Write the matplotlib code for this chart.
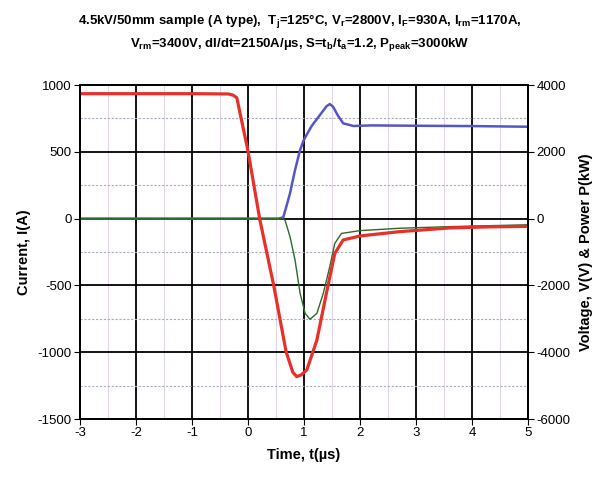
import matplotlib.pyplot as plt
import matplotlib.ticker as ticker

plt.rcParams['font.family'] = ['Liberation Sans Narrow', 'Liberation Sans', 'DejaVu Sans']
plt.rcParams['mathtext.default'] = 'regular'

# current I(A)
t_cur = [-3.0, -1.0, -0.35, -0.27, -0.2, 0.0, 0.21, 0.46, 0.68, 0.8, 0.87, 0.95, 1.05, 1.23, 1.4, 1.55, 1.7,
         2.0, 2.7, 3.6, 4.3, 5.0]
i_cur = [935, 935, 933, 925, 905, 506, -5, -502, -996, -1150, -1183, -1170, -1133, -909, -559, -260, -160,
         -130, -98, -70, -62, -58]

# voltage V(V)
t_volt = [-3.0, 0.0, 0.55, 0.63, 0.7, 0.75, 0.84, 0.93, 0.99, 1.05, 1.14, 1.23, 1.32, 1.4, 1.46, 1.52, 1.6,
          1.7, 1.88, 2.2, 3.0, 4.0, 5.0]
v_volt = [0, 0, 0, 40, 450, 756, 1455, 2053, 2330, 2520, 2780, 2980, 3180, 3360, 3430, 3350, 3100,
          2853, 2773, 2790, 2780, 2770, 2750]

# power P(kW)
t_pow = [-3.0, 0.0, 0.6, 0.66, 0.75, 0.84, 0.93, 1.02, 1.107, 1.23, 1.345, 1.46, 1.55, 1.67, 2.0, 2.7, 3.6, 5.0]
p_pow = [0, 0, 0, -40, -540, -1240, -2235, -2836, -3015, -2836, -2235, -1440, -740, -444, -360, -290, -240, -185]

title = ("4.5kV/50mm sample (A type),  T$_j$=125°C, V$_r$=2800V, I$_F$=930A, I$_{rm}$=1170A,\n"
         "V$_{rm}$=3400V, dI/dt=2150A/µs, S=t$_b$/t$_a$=1.2, P$_{peak}$=3000kW")

fig = plt.figure(figsize=(6.01, 4.88), dpi=100)
ax = fig.add_axes([80 / 601, 1 - 419 / 488, 448 / 601, 334 / 488])
ax2 = ax.twinx()

ax.set_xlim(-3, 5)
ax.set_ylim(-1500, 1000)
ax2.set_ylim(-6000, 4000)

ax.xaxis.set_major_locator(ticker.MultipleLocator(1))
ax.xaxis.set_minor_locator(ticker.MultipleLocator(0.5))
ax.yaxis.set_major_locator(ticker.MultipleLocator(500))
ax.yaxis.set_minor_locator(ticker.MultipleLocator(250))
ax2.yaxis.set_major_locator(ticker.MultipleLocator(2000))

ax.grid(which='major', color='black', lw=1.3)
ax.grid(which='minor', axis='y', color='#a8acbc', lw=0.8, ls=(0, (2, 1.5)))
ax.grid(which='minor', axis='x', color='#e0d4e6', lw=0.8)
ax.set_axisbelow(True)

ax2.plot(t_volt, v_volt, color='#5555c8', lw=1.8)
ax2.plot(t_pow, p_pow, color='#2a6a2a', lw=1.0)
ax2.plot(t_cur, [4 * v for v in i_cur], color='#e8302a', lw=2.3)

ax.tick_params(which='major', direction='out', length=4, width=0.8, labelsize=9.5, pad=2)
ax.tick_params(which='minor', length=0)
ax2.tick_params(direction='out', length=4, width=0.8, labelsize=9.5, pad=2)
for a in (ax, ax2):
    for s in a.spines.values():
        s.set_linewidth(1.3)

ax.yaxis.set_major_formatter(ticker.FuncFormatter(lambda v, p: f"{int(v)}"))
ax2.yaxis.set_major_formatter(ticker.FuncFormatter(lambda v, p: f"{int(v)}"))
ax.xaxis.set_major_formatter(ticker.FuncFormatter(lambda v, p: f"{int(v)}"))

ax.set_xlabel('Time, t(µs)', fontsize=10.5, fontweight='bold', labelpad=6)
ax.set_ylabel('Current, I(A)', fontsize=10.5, fontweight='bold', labelpad=5)
ax2.set_ylabel('Voltage, V(V) & Power P(kW)', fontsize=10.5, fontweight='bold', labelpad=6)

fig.text(300 / 601, 1 - 33 / 488, title, ha='center', va='center', fontsize=9.5, fontweight='bold',
         linespacing=1.5)

fig.savefig('out.png', dpi=100)
